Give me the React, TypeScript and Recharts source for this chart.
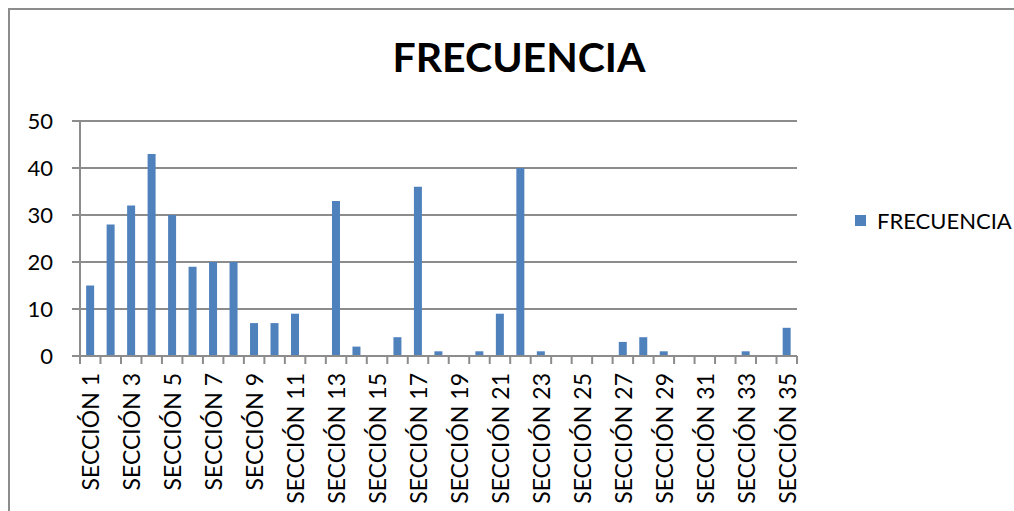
import React from "react";
import { BarChart, Bar, XAxis, YAxis, CartesianGrid } from "recharts";

const categories: string[] = Array.from({ length: 35 }, (_, i) => `SECCIÓN ${i + 1}`);
const frecuencia: number[] = [
  15, 28, 32, 43, 30, 19, 20, 20, 7, 7, 9, 0, 33, 2, 0, 4, 36, 1, 0, 1, 9, 40, 1, 0, 0, 0, 3, 4, 1, 0, 0, 0, 1, 0, 6,
];
const yTicks: number[] = [0, 10, 20, 30, 40, 50];
const seriesName = "FRECUENCIA";
const titleText = "FRECUENCIA";

const data = categories.map((c, i) => ({ name: c, value: frecuencia[i] }));

const FONT = "Lato, 'Liberation Sans', sans-serif";
const GRID = "#8c8c8c";
const BAR = "#4F81BD";

const XTick = (props: any) => {
  const { x, y, payload, index } = props;
  const half = payload && payload.offset ? payload.offset : 10.24;
  const last = index === categories.length - 1;
  return (
    <g>
      <line x1={x - half} x2={x - half} y1={y} y2={y + 8} stroke={GRID} strokeWidth={2} />
      {last && <line x1={x + half} x2={x + half} y1={y} y2={y + 8} stroke={GRID} strokeWidth={2} />}
      {index % 2 === 0 && (
        <text
          x={x}
          y={y + 17}
          transform={`rotate(-90, ${x}, ${y + 17})`}
          textAnchor="end"
          dominantBaseline="central"
          fontFamily={FONT}
          fontSize={23}
          fill="#000"
        >
          {payload.value}
        </text>
      )}
    </g>
  );
};

export default function App() {
  return (
    <div
      style={{
        position: "fixed",
        left: 0,
        top: 0,
        width: 1014,
        height: 511,
        overflow: "hidden",
        background: "#fff",
      }}
    >
      <div
        style={{
          position: "absolute",
          left: 8,
          top: 8,
          width: 1100,
          height: 600,
          borderLeft: `2px solid ${GRID}`,
          borderTop: `2px solid ${GRID}`,
        }}
      />
      <div
        style={{
          position: "absolute",
          left: 0,
          width: 1038,
          top: 33,
          textAlign: "center",
          fontFamily: FONT,
          fontWeight: 700,
          fontSize: 41,
          lineHeight: "48px",
          color: "#000",
        }}
      >
        {titleText}
      </div>
      <div style={{ position: "absolute", left: 0, top: 0 }}>
        <BarChart
          width={1014}
          height={511}
          data={data}
          margin={{ top: 121, right: 217, bottom: 0, left: 0 }}
          barCategoryGap="30%"
        >
          <CartesianGrid vertical={false} horizontal stroke={GRID} strokeWidth={2} />
          <XAxis
            dataKey="name"
            interval={0}
            height={155}
            tickSize={0}
            tickMargin={0}
            axisLine={{ stroke: GRID, strokeWidth: 2 }}
            tickLine={false}
            tick={<XTick />}
          />
          <YAxis
            width={80}
            domain={[0, 50]}
            ticks={yTicks}
            interval={0}
            tickSize={8}
            tickMargin={19}
            axisLine={{ stroke: GRID, strokeWidth: 2 }}
            tickLine={{ stroke: GRID, strokeWidth: 2 }}
            tick={{ fontFamily: FONT, fontSize: 22, fill: "#000" }}
          />
          <Bar dataKey="value" name={seriesName} fill={BAR} isAnimationActive={false} />
        </BarChart>
      </div>
      <div
        style={{
          position: "absolute",
          left: 855,
          top: 207,
          display: "flex",
          alignItems: "center",
          fontFamily: FONT,
          fontSize: 22,
          color: "#000",
        }}
      >
        <span style={{ display: "inline-block", width: 11, height: 11, background: BAR, marginRight: 11 }} />
        <span>{seriesName}</span>
      </div>
    </div>
  );
}
